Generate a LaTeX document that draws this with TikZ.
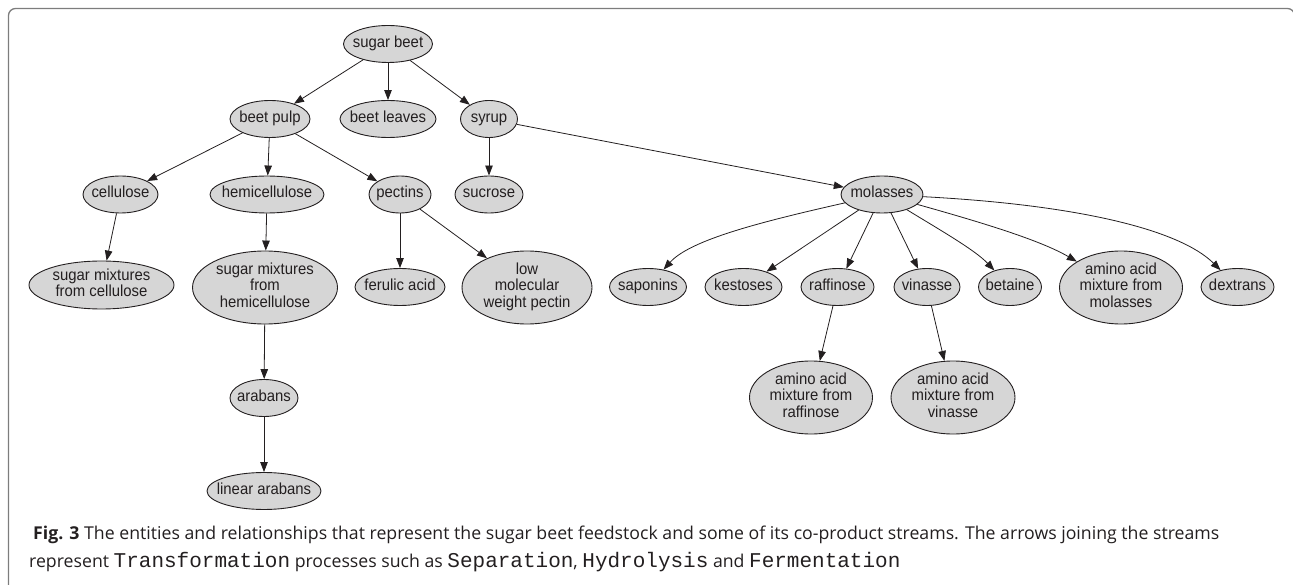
\documentclass[tikz,border=0pt]{standalone}
\usepackage{fontspec}
\setmainfont[FakeStretch=0.93]{Liberation Sans}
\newfontfamily\capfont{Open Sans}
\newfontfamily\capmono{Liberation Mono}
\usetikzlibrary{shapes.geometric,arrows.meta}
\definecolor{nodefill}{RGB}{214,214,214}
\definecolor{ink}{RGB}{35,31,32}
\definecolor{framegray}{RGB}{125,125,125}
\newcommand{\lbl}[1]{\makebox[0pt]{\begin{tabular}{@{}c@{}}#1\end{tabular}}}
\begin{document}
\begin{tikzpicture}[x=1pt,y=-1pt,
  ent/.style={ellipse, draw=ink, fill=nodefill, line width=0.9pt, inner sep=0pt,
    text=ink, font=\fontsize{16}{15.6}\selectfont},
  one/.style={ent, minimum height=37pt},
  flow/.style={draw=ink, line width=0.8pt, -{Triangle[length=10pt,width=7.5pt]}},
  captxt/.style={anchor=base west, inner sep=0pt, text=ink,
    font=\capfont\fontsize{17.7}{28}\selectfont}
]
\useasboundingbox (0,0) rectangle (1293,585);
\draw[framegray, line width=1.3pt, rounded corners=7pt]
  (8.5,600) -- (8.5,8.5) -- (1294.5,8.5) -- (1294.5,600);

% level 0
\node[one, minimum width=89pt] (sb) at (388,44) {\lbl{sugar beet}};
% level 1
\node[one, minimum width=80pt] (bp) at (270,119) {\lbl{beet pulp}};
\node[one, minimum width=96pt] (bl) at (388,119) {\lbl{beet leaves}};
\node[one, minimum width=57pt] (sy) at (489,119) {\lbl{syrup}};
% level 2
\node[one, minimum width=75pt] (ce) at (120.5,194.5) {\lbl{cellulose}};
\node[one, minimum width=114pt] (hc) at (267,194.5) {\lbl{hemicellulose}};
\node[one, minimum width=62pt] (pe) at (400,194.5) {\lbl{pectins}};
\node[one, minimum width=68pt] (su) at (489,194.5) {\lbl{sucrose}};
\node[one, minimum width=82pt] (mo) at (882,194.5) {\lbl{molasses}};
% level 3
\node[ent, minimum width=145pt, minimum height=48pt] (smc) at (101.5,285) {\lbl{sugar mixtures\\from cellulose}};
\node[ent, minimum width=145pt, minimum height=73pt] (smh) at (265,287.5) {\lbl{sugar mixtures\\from\\hemicellulose}};
\node[one, minimum width=90pt] (fa) at (400,287) {\lbl{ferulic acid}};
\node[ent, minimum width=130pt, minimum height=73pt] (lmw) at (527,287.5) {\lbl{low\\molecular\\weight pectin}};
\node[one, minimum width=77pt] (sap) at (648,287) {\lbl{saponins}};
\node[one, minimum width=77pt] (kes) at (743.5,287) {\lbl{kestoses}};
\node[one, minimum width=73pt] (raf) at (837.5,287) {\lbl{raffinose}};
\node[one, minimum width=66pt] (vin) at (927,287) {\lbl{vinasse}};
\node[one, minimum width=63pt] (bet) at (1010,287) {\lbl{betaine}};
\node[ent, minimum width=123pt, minimum height=73pt] (aam) at (1121,287.5) {\lbl{amino acid\\mixture from\\molasses}};
\node[one, minimum width=73pt] (dex) at (1237.5,287) {\lbl{dextrans}};
% level 4
\node[ent, minimum width=123pt, minimum height=73pt] (aar) at (811,397.5) {\lbl{amino acid\\mixture from\\raffinose}};
\node[ent, minimum width=124pt, minimum height=73pt] (aav) at (953,397.5) {\lbl{amino acid\\mixture from\\vinasse}};
\node[one, minimum width=68pt] (ara) at (264,398) {\lbl{arabans}};
% level 5
\node[one, minimum width=114pt] (lar) at (264,491) {\lbl{linear arabans}};

% edges
\draw[flow] (sb) -- (bp);
\draw[flow] (sb) -- (bl);
\draw[flow] (sb) -- (sy);
\draw[flow] (bp) -- (ce);
\draw[flow] (bp) -- (hc);
\draw[flow] (bp) -- (pe);
\draw[flow] (sy) -- (su);
\draw[flow] (sy) -- (mo);
\draw[flow] (ce) -- (smc);
\draw[flow] (hc) -- (smh);
\draw[flow] (smh) -- (ara);
\draw[flow] (ara) -- (lar);
\draw[flow] (pe) -- (fa);
\draw[flow] (pe) -- (lmw);
\draw[flow] (mo) .. controls (760,222) and (690,240) .. (sap);
\draw[flow] (mo) -- (kes);
\draw[flow] (mo) -- (raf);
\draw[flow] (mo) -- (vin);
\draw[flow] (mo) .. controls (940,230) and (975,250) .. (bet);
\draw[flow] (mo) .. controls (980,222) and (1040,240) .. (aam);
\draw[flow] (mo) .. controls (1080,205) and (1180,230) .. (dex);
\draw[flow] (raf) -- (aar);
\draw[flow] (vin) -- (aav);

% caption
\node[captxt] (cap1) at (33,539) {\textbf{Fig. 3} The entities and relationships that represent the sugar beet feedstock and some of its co-product streams. The arrows joining the streams};
\node[captxt] (cap2) at (29,567) {represent {\capmono\fontsize{21}{28}\selectfont Transformation} processes such as {\capmono\fontsize{21}{28}\selectfont Separation}, {\capmono\fontsize{21}{28}\selectfont Hydrolysis} and {\capmono\fontsize{21}{28}\selectfont Fermentation}};
\end{tikzpicture}
\end{document}
